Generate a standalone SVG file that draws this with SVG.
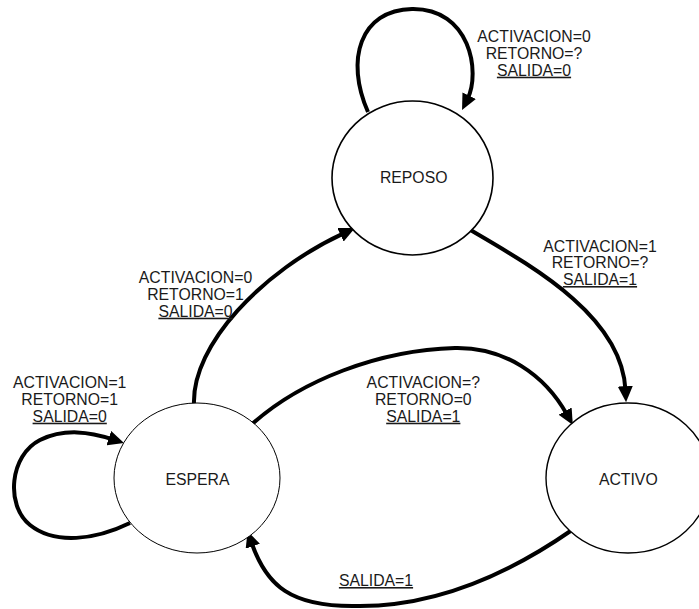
<svg xmlns="http://www.w3.org/2000/svg" width="699" height="609" viewBox="0 0 699 609">
  <style>
    .state { fill: #ffffff; stroke: #000000; }
    .name { font-family: "Liberation Sans", Arial, sans-serif; font-size: 15.8px; fill: #1a1a1a; text-anchor: middle; }
    .cond { font-family: "Liberation Sans", Arial, sans-serif; font-size: 15.8px; fill: #1a1a1a; text-anchor: middle; }
    .out { text-decoration: underline; }
    .edge { fill: none; stroke: #000000; stroke-width: 4; stroke-linecap: butt; marker-end: url(#head); }
  </style>
  <defs>
    <!-- solid triangular head; its tip sits 12px past the end of the path -->
    <marker id="head" markerUnits="userSpaceOnUse" viewBox="-4 -7.5 16 15" markerWidth="16" markerHeight="15" refX="0" refY="0" orient="auto">
      <path d="M-4,-7.5 L12,0 L-4,7.5 Z" fill="#000000"/>
    </marker>
  </defs>

  <rect width="699" height="609" fill="#ffffff"/>

  <!-- transitions -->
  <g id="connectors">
    <!-- REPOSO self-loop -->
    <path class="edge" d="M368,112 C345,60 360,10 412,9 C470,8 481,72 467.4,99.3"/>
    <!-- REPOSO to ACTIVO -->
    <path class="edge" d="M467,228 C530,265 622,315 625.5,390.2"/>
    <!-- ESPERA to REPOSO -->
    <path class="edge" d="M194,404 C192,345 262,271 344.1,233.1"/>
    <!-- ESPERA to ACTIVO -->
    <path class="edge" d="M250,426 C300,380 380,350 455,348 C505,347 545,375 567,414.6"/>
    <!-- ACTIVO to ESPERA -->
    <path class="edge" d="M572,530 C500,580 430,606 360,606 C290,608 266,585 251.5,542.5"/>
    <!-- ESPERA self-loop -->
    <path class="edge" d="M130,523 C95,540 55,545 30,525 C5,505 10,455 40,440 C65,428 90,432 112.6,439.3"/>
  </g>

  <g id="reposo">
    <ellipse class="state" cx="412.5" cy="178" rx="80.5" ry="77" stroke-width="1.6"/>
    <text class="name" x="413.7" y="183.3">REPOSO</text>
  </g>

  <g id="espera">
    <ellipse class="state" cx="197" cy="478" rx="83" ry="75" stroke-width="1"/>
    <text class="name" x="197.5" y="485">ESPERA</text>
  </g>

  <g id="activo">
    <ellipse class="state" cx="628" cy="478" rx="82" ry="75" stroke-width="1.4"/>
    <text class="name" x="628.3" y="485">ACTIVO</text>
  </g>

  <!-- transition labels -->
  <g id="labels">
    <text class="cond" x="534" y="42.3">ACTIVACION=0</text>
    <text class="cond" x="534" y="59">RETORNO=?</text>
    <text class="cond out" x="534" y="75.7">SALIDA=0</text>

    <text class="cond" x="600" y="251.7">ACTIVACION=1</text>
    <text class="cond" x="600" y="268.3">RETORNO=?</text>
    <text class="cond out" x="600" y="285">SALIDA=1</text>

    <text class="cond" x="195.5" y="283.3">ACTIVACION=0</text>
    <text class="cond" x="195.5" y="300">RETORNO=1</text>
    <text class="cond out" x="195.5" y="316.7">SALIDA=0</text>

    <text class="cond" x="69.7" y="388.3">ACTIVACION=1</text>
    <text class="cond" x="69.7" y="405">RETORNO=1</text>
    <text class="cond out" x="69.7" y="421.7">SALIDA=0</text>

    <text class="cond" x="423.3" y="388.3">ACTIVACION=?</text>
    <text class="cond" x="423.3" y="405">RETORNO=0</text>
    <text class="cond out" x="423.3" y="421.7">SALIDA=1</text>

    <text class="cond out" x="376" y="586">SALIDA=1</text>
  </g>
</svg>
